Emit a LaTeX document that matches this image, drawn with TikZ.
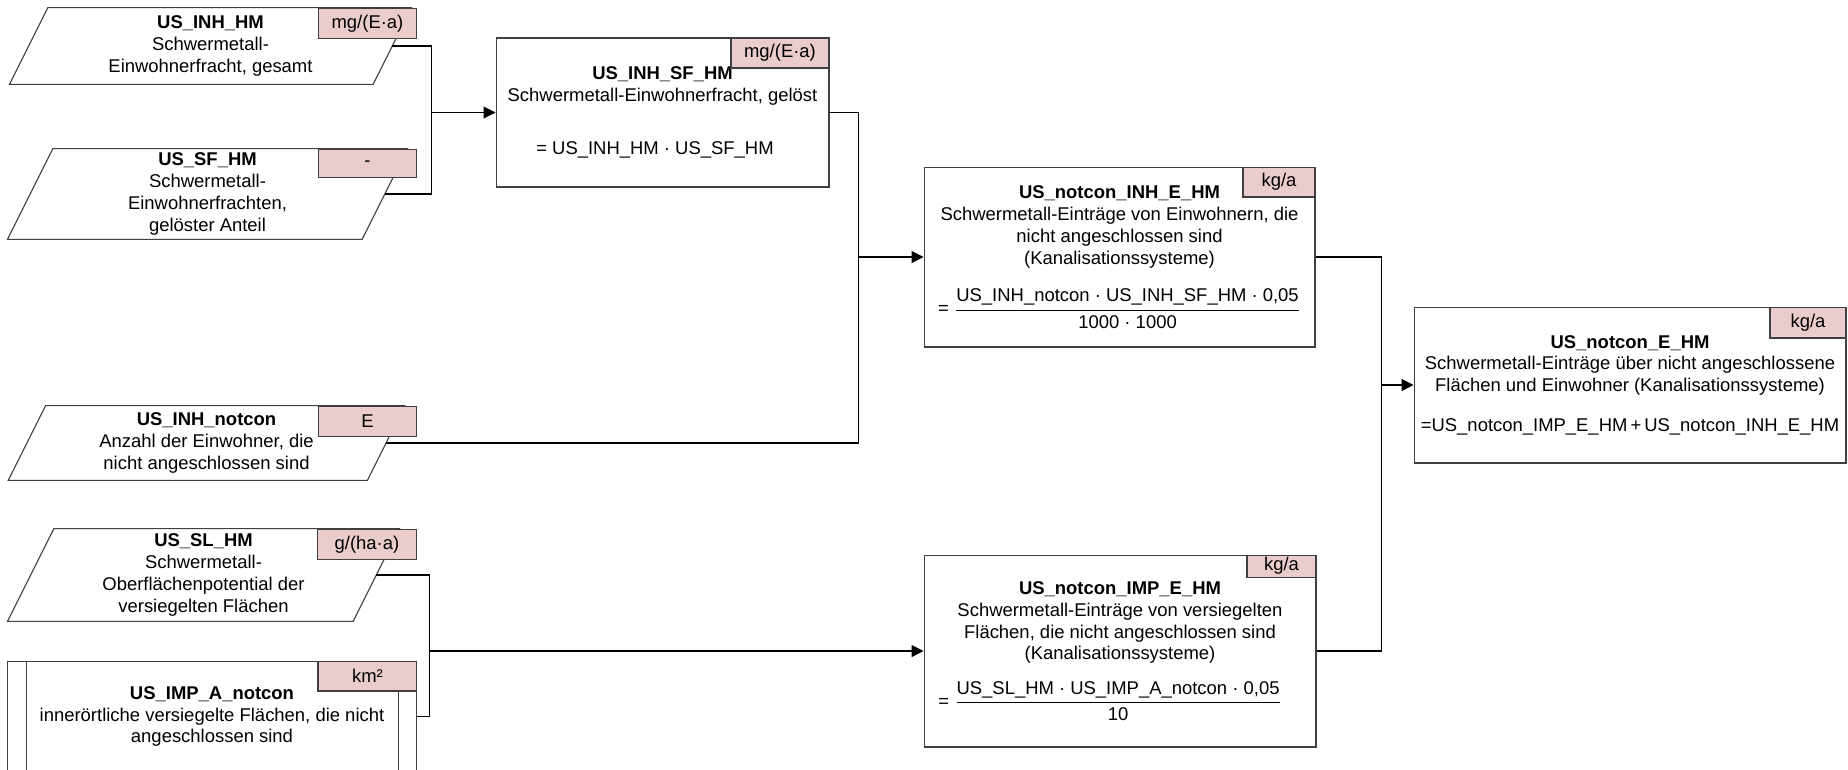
\documentclass[tikz,border=0pt]{standalone}
\usepackage{fontspec}
\setmainfont{Liberation Sans}
\usepackage{amsmath}
\usetikzlibrary{arrows.meta,positioning,calc}
\definecolor{unitpink}{RGB}{234,204,204}
\definecolor{edgegray}{RGB}{64,64,64}

\begin{document}
\begin{tikzpicture}[x=0.02cm,y=-0.02cm,>={Triangle[length=6.8pt,width=6.8pt]},
  every node/.style={font=\fontsize{10.5pt}{12.4pt}\selectfont},
  inpar/.style={rectangle,align=center,inner sep=0pt},
  calcbox/.style={rectangle,draw=edgegray,line width=0.6pt,align=center,inner sep=0pt},
  unitbox/.style={rectangle,draw=edgegray,line width=0.6pt,fill=unitpink,inner sep=0pt,anchor=north east},
  link/.style={draw=black,line width=0.6pt}]
  \useasboundingbox (0,0) rectangle (1848,769);

  \node[inpar,minimum width=7.26cm,minimum height=1.52cm] (inhhm) at (210.5,46)
    {\textbf{US\_INH\_HM}\\Schwermetall-\\Einwohnerfracht, gesamt};
  \node[inpar,minimum width=7.08cm,minimum height=1.8cm] (sfhm) at (207.5,194)
    {\textbf{US\_SF\_HM}\\Schwermetall-\\Einwohnerfrachten,\\gelöster Anteil};
  \node[inpar,minimum width=7.17cm,minimum height=1.48cm] (inhnot) at (206.5,443)
    {\textbf{US\_INH\_notcon}\\Anzahl der Einwohner, die\\nicht angeschlossen sind};
  \node[inpar,minimum width=6.9cm,minimum height=1.84cm] (slhm) at (203.5,575)
    {\textbf{US\_SL\_HM}\\Schwermetall-\\Oberflächenpotential der\\versiegelten Flächen};
  \foreach \n in {inhhm,sfhm,inhnot,slhm}
    \draw[edgegray,line width=0.6pt]
      ($(\n.south west)!0.25!90:(\n.north west)$) -- ($(\n.north west)!0.25!90:(\n.south west)$)
      -- ($(\n.north east)!0.25!90:(\n.south east)$) -- ($(\n.south east)!0.25!90:(\n.north east)$) -- cycle;
  \node[calcbox,minimum width=8.2cm,minimum height=2.22cm] (impa) at (212,716.5)
    {\textbf{US\_IMP\_A\_notcon}\\innerörtliche versiegelte Flächen, die nicht\\angeschlossen sind};
  \draw[edgegray,line width=0.6pt] ($(impa.north west)+(20,0)$) -- ($(impa.south west)+(20,0)$);
  \draw[edgegray,line width=0.6pt] ($(impa.north east)+(-19,0)$) -- ($(impa.south east)+(-19,0)$);

  \node[calcbox,minimum width=6.66cm,minimum height=2.98cm] (inhsf) at (662.5,112.5)
    {\textbf{US\_INH\_SF\_HM}\\Schwermetall-Einwohnerfracht, gelöst\\[18pt]= US\_INH\_HM · US\_SF\_HM\hspace*{0.3cm}};
  \node[calcbox,minimum width=7.82cm,minimum height=3.6cm] (notinh) at (1119.5,257)
    {\textbf{US\_notcon\_INH\_E\_HM}\\Schwermetall-Einträge von Einwohnern, die\\nicht angeschlossen sind\\(Kanalisationssysteme)\\[11pt]
     $\mathrel{\text{=}}\dfrac{\text{US\_INH\_notcon · US\_INH\_SF\_HM · 0,05}}{\text{1000 · 1000}}$};
  \node[calcbox,minimum width=7.84cm,minimum height=3.84cm] (notimp) at (1120,651)
    {\textbf{US\_notcon\_IMP\_E\_HM}\\Schwermetall-Einträge von versiegelten\\Flächen, die nicht angeschlossen sind\\(Kanalisationssysteme)\\[9pt]
     $\mathrel{\text{=}}\dfrac{\text{US\_SL\_HM · US\_IMP\_A\_notcon · 0,05}}{\text{10}}$\hspace*{0.4cm}};
  \node[calcbox,minimum width=8.64cm,minimum height=3.12cm] (note) at (1630,385)
    {\textbf{US\_notcon\_E\_HM}\\Schwermetall-Einträge über nicht angeschlossene\\Flächen und Einwohner (Kanalisationssysteme)\\[10pt]
     =US\_notcon\_IMP\_E\_HM\,+\,US\_notcon\_INH\_E\_HM};

  \node[unitbox,minimum width=1.96cm,minimum height=0.6cm] (inhhmu) at (417,8) {mg/(E·a)};
  \node[unitbox,minimum width=1.96cm,minimum height=0.56cm] (sfhmu) at (417,149) {-};
  \node[unitbox,minimum width=1.96cm,minimum height=0.6cm] (inhnotu) at (417,406) {E};
  \node[unitbox,minimum width=1.98cm,minimum height=0.6cm] (slhmu) at (417,529) {g/(ha·a)};
  \node[unitbox,minimum width=1.98cm,minimum height=0.6cm] (impau) at (impa.north east) {km²};
  \node[unitbox,minimum width=1.96cm,minimum height=0.6cm] (inhsfu) at (inhsf.north east) {mg/(E·a)};
  \node[unitbox,minimum width=1.44cm,minimum height=0.6cm] (notinhu) at (notinh.north east) {kg/a};
  \node[unitbox,minimum width=1.38cm,minimum height=0.44cm] (notimpu) at (notimp.north east) {kg/a};
  \node[unitbox,minimum width=1.52cm,minimum height=0.62cm] (noteu) at (note.north east) {kg/a};

  \coordinate (j1) at ([xshift=-1.28cm]inhsf.west);
  \coordinate (j2) at ([xshift=-1.3cm]notinh.west);
  \coordinate (j3) at ([xshift=-9.88cm]notimp.west);
  \coordinate (j4) at ([xshift=-0.64cm]note.west);

  \draw[link] (inhhm.east) -| (j1) |- (sfhm.east);
  \draw[link,->] (j1) -- (inhsf.west);
  \draw[link] (inhsf.east) -| (j2) |- (inhnot.east);
  \draw[link,->] (j2) -- (notinh.west);
  \draw[link] (slhm.east) -| (j3) |- (impa.east);
  \draw[link,->] (j3) -- (notimp.west);
  \draw[link] (notinh.east) -| (j4) |- (notimp.east);
  \draw[link,->] (j4) -- (note.west);
\end{tikzpicture}
\end{document}
